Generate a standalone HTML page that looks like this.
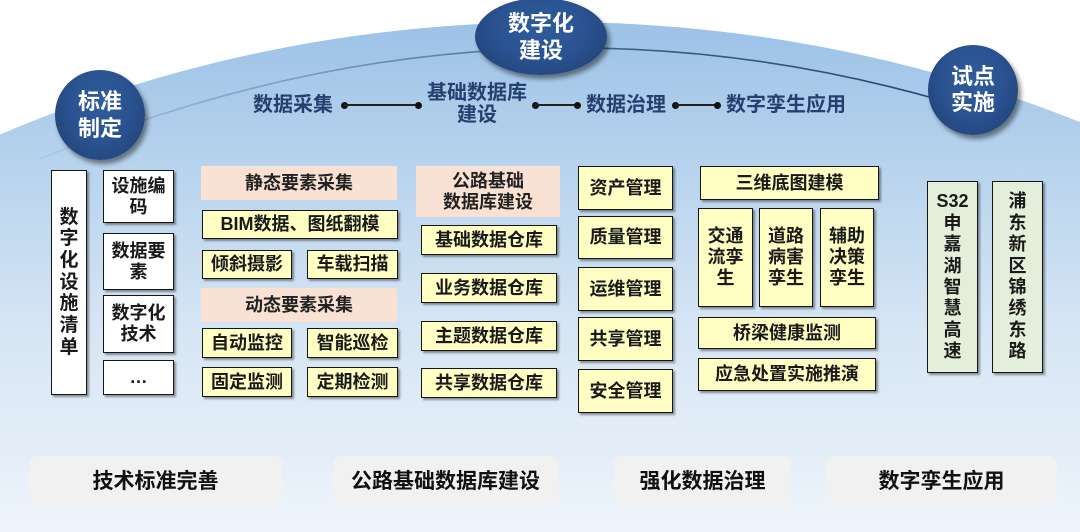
<!DOCTYPE html>
<html><head><meta charset="utf-8">
<style>
*{margin:0;padding:0;box-sizing:border-box}
html,body{width:1080px;height:532px;overflow:hidden}
body{background:#fff;font-family:"Liberation Sans","Noto Sans CJK SC",sans-serif;font-weight:bold;position:relative}
svg.bg{position:absolute;left:0;top:0;display:block}
.b{position:absolute;display:flex;align-items:center;justify-content:center;text-align:center;border:1.5px solid #151515;background:#ffffc4;box-shadow:2px 2px 2px rgba(0,0,0,.4);font-size:18px;line-height:21px;color:#1a1a1a}
.w{background:#fff}
.g{background:#e3efda}
.h{position:absolute;display:flex;align-items:center;justify-content:center;text-align:center;background:#f9e2d4;font-size:18px;line-height:21px;color:#222}
.c{position:absolute;display:flex;align-items:center;justify-content:center;text-align:center;border-radius:50%;color:#fff;font-size:22px;line-height:27px;background:radial-gradient(ellipse at 50% 40%,#2f5c9c 0%,#2a5290 50%,#1f3c6c 100%);box-shadow:3px 4px 5px rgba(0,0,0,.45)}
.f{position:absolute;font-size:20px;line-height:20px;color:#253f6e;white-space:nowrap}
.d{position:absolute;width:7px;height:7px;border-radius:50%;background:#111}
.l{position:absolute;height:1.5px;background:#222}
.bt{position:absolute;top:456px;height:48px;background:#f1f1f1;border-radius:8px;display:flex;align-items:center;justify-content:center;font-size:21px;color:#111}
</style></head><body>
<svg class="bg" width="1080" height="532" viewBox="0 0 1080 532">
<defs>
<linearGradient id="gb" x1="0" y1="22" x2="0" y2="532" gradientUnits="userSpaceOnUse">
<stop offset="0" stop-color="#9cc2e6"/>
<stop offset="0.3" stop-color="#b9d4ee"/>
<stop offset="0.6" stop-color="#d6e5f4"/>
<stop offset="1" stop-color="#eef4fb"/>
</linearGradient>
<linearGradient id="gl" x1="40" y1="0" x2="940" y2="0" gradientUnits="userSpaceOnUse">
<stop offset="0" stop-color="#a9c8e6"/>
<stop offset="0.45" stop-color="#5f80a8"/>
<stop offset="0.7" stop-color="#3a5a82"/>
<stop offset="1" stop-color="#2c4a70"/>
</linearGradient>
</defs>
<path d="M0 134.6 A1200 993 0 0 1 1080 122.1 L1080 532 L0 532 Z" fill="url(#gb)"/>
<path d="M40 159 Q490 -28 940 100" fill="none" stroke="url(#gl)" stroke-width="1.6"/>
</svg>

<!-- circles -->
<div class="c" style="left:55px;top:70px;width:90px;height:90px">标准<br>制定</div>
<div class="c" style="left:475px;top:-2px;width:132px;height:77px">数字化<br>建设</div>
<div class="c" style="left:928px;top:45px;width:90px;height:90px;line-height:26px">试点<br>实施</div>

<!-- flow -->
<div class="f" style="left:253px;top:95px">数据采集</div>
<div class="d" style="left:341px;top:102px"></div>
<div class="l" style="left:344px;top:104px;width:74px"></div>
<div class="d" style="left:415px;top:102px"></div>
<div class="f" style="left:427px;top:83px">基础数据库</div>
<div class="f" style="left:457px;top:105px">建设</div>
<div class="d" style="left:532px;top:102px"></div>
<div class="l" style="left:535px;top:104px;width:42px"></div>
<div class="d" style="left:574px;top:102px"></div>
<div class="f" style="left:586px;top:95px">数据治理</div>
<div class="d" style="left:672px;top:102px"></div>
<div class="l" style="left:675px;top:104px;width:42px"></div>
<div class="d" style="left:714px;top:102px"></div>
<div class="f" style="left:726px;top:95px">数字孪生应用</div>

<!-- column 1 -->
<div class="b w" style="left:51px;top:170px;width:36px;height:225px;font-size:19px;line-height:21.7px">数<br>字<br>化<br>设<br>施<br>清<br>单</div>
<div class="b w" style="left:103px;top:170px;width:71px;height:53px">设施编<br>码</div>
<div class="b w" style="left:103px;top:233px;width:71px;height:57px">数据要<br>素</div>
<div class="b w" style="left:103px;top:295px;width:71px;height:58px">数字化<br>技术</div>
<div class="b w" style="left:103px;top:360px;width:71px;height:35px">…</div>

<!-- column 2 -->
<div class="h" style="left:201px;top:166px;width:196px;height:34px">静态要素采集</div>
<div class="b" style="left:202px;top:210px;width:196px;height:29px">BIM数据、图纸翻模</div>
<div class="b" style="left:202px;top:250px;width:90px;height:29px">倾斜摄影</div>
<div class="b" style="left:307px;top:250px;width:91px;height:29px">车载扫描</div>
<div class="h" style="left:201px;top:288px;width:196px;height:34px">动态要素采集</div>
<div class="b" style="left:202px;top:328px;width:90px;height:30px">自动监控</div>
<div class="b" style="left:307px;top:328px;width:91px;height:30px">智能巡检</div>
<div class="b" style="left:202px;top:367px;width:90px;height:30px">固定监测</div>
<div class="b" style="left:307px;top:367px;width:91px;height:30px">定期检测</div>

<!-- column 3 -->
<div class="h" style="left:416px;top:166px;width:144px;height:51px">公路基础<br>数据库建设</div>
<div class="b" style="left:421px;top:225px;width:136px;height:30px">基础数据仓库</div>
<div class="b" style="left:421px;top:273px;width:136px;height:30px">业务数据仓库</div>
<div class="b" style="left:421px;top:321px;width:136px;height:30px">主题数据仓库</div>
<div class="b" style="left:421px;top:368px;width:136px;height:30px">共享数据仓库</div>

<!-- column 4 -->
<div class="b" style="left:578px;top:166px;width:95px;height:44px">资产管理</div>
<div class="b" style="left:578px;top:216px;width:95px;height:43px">质量管理</div>
<div class="b" style="left:578px;top:267px;width:95px;height:44px">运维管理</div>
<div class="b" style="left:578px;top:317px;width:95px;height:44px">共享管理</div>
<div class="b" style="left:578px;top:369px;width:95px;height:44px">安全管理</div>

<!-- column 5 -->
<div class="b" style="left:700px;top:166px;width:179px;height:34px">三维底图建模</div>
<div class="b" style="left:698px;top:208px;width:55px;height:99px">交通<br>流孪<br>生</div>
<div class="b" style="left:759px;top:208px;width:54px;height:99px">道路<br>病害<br>孪生</div>
<div class="b" style="left:820px;top:208px;width:54px;height:99px">辅助<br>决策<br>孪生</div>
<div class="b" style="left:698px;top:317px;width:178px;height:32px">桥梁健康监测</div>
<div class="b" style="left:698px;top:358px;width:178px;height:33px">应急处置实施推演</div>

<!-- column 6 -->
<div class="b g" style="left:927px;top:181px;width:51px;height:192px;line-height:21.4px">S32<br>申<br>嘉<br>湖<br>智<br>慧<br>高<br>速</div>
<div class="b g" style="left:992px;top:181px;width:51px;height:192px;line-height:21.4px">浦<br>东<br>新<br>区<br>锦<br>绣<br>东<br>路</div>

<!-- bottom -->
<div class="bt" style="left:29px;width:253px">技术标准完善</div>
<div class="bt" style="left:333px;width:225px">公路基础数据库建设</div>
<div class="bt" style="left:614px;width:177px">强化数据治理</div>
<div class="bt" style="left:826px;width:231px">数字孪生应用</div>
</body></html>
